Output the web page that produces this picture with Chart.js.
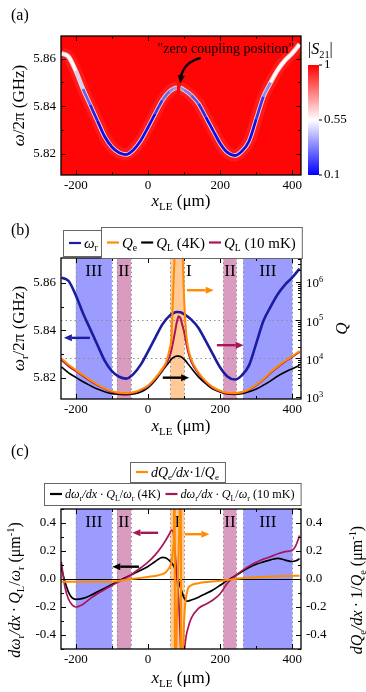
<!DOCTYPE html>
<html>
<head>
<meta charset="utf-8">
<script src="https://cdn.jsdelivr.net/npm/chart.js@4.4.1/dist/chart.umd.min.js"></script>
<style>
  body { margin: 0; background: #fff; }
  #wrap { position: relative; width: 366px; height: 692px; }
  #wrap canvas { position: absolute; left: 0; top: 0; }
</style>
</head>
<body>
<div id="wrap">
  <canvas id="chartA" width="366" height="692"></canvas>
  <canvas id="chartB" width="366" height="692"></canvas>
  <canvas id="chartC" width="366" height="692"></canvas>
</div>
<script>
const FONT = '"Liberation Serif", "Times New Roman", serif';
Chart.defaults.font.family = FONT;
Chart.defaults.font.size = 13;
Chart.defaults.color = "#000";

// x_LE axis (um), same for the three panels
const xTicks = [-200, 0, 200, 400];
const xMinor = [-100, 100, 300];

// resonance frequency omega_r/2pi (GHz)
const xW = [-240, -220, -200, -180, -160, -140, -120, -100, -80, -60, -40, -20, 0, 20, 40, 60, 70, 80, 90, 100,
  120, 140, 160, 180, 200, 220, 240, 260, 280, 300, 320, 340, 360, 380, 400, 420];
const omegaR = [5.8622, 5.8608, 5.8548, 5.8472, 5.8405, 5.8338, 5.8272, 5.8228, 5.8204, 5.8196,
  5.8216, 5.8255, 5.8310, 5.8368, 5.8425, 5.8462, 5.8472, 5.8477, 5.8476, 5.8468,
  5.8445, 5.8410, 5.8355, 5.8298, 5.8243, 5.8205, 5.8192, 5.8210, 5.8252, 5.8345,
  5.8440, 5.8500, 5.8553, 5.8593, 5.8623, 5.8660];
const freqTicks = [5.82, 5.84, 5.86];
const freqMinor = [5.83, 5.85];
const s21Ticks = ["1", "0.55", "0.1"];

// (b) quality factors
const xQ = [-240, -220, -200, -180, -160, -140, -120, -100, -80, -60, -40, -20, 0, 20, 40, 50, 60, 65, 70, 75,
  80, 85, 90, 95, 100, 105, 110, 120, 140, 160, 180, 200, 220, 240, 260, 280, 300, 320, 340, 360, 380, 400, 420];
const qExt = [10000, 6800, 5000, 3700, 2700, 2100, 1650, 1400, 1270, 1240, 1300, 1530, 1950, 3050, 5400, 7900,
  17800, 35000, 600000, 8e6, 3e7, 1.6e7, 3e7, 8e6, 4e5, 56000, 22000, 9500, 4300, 2550, 1780, 1430, 1270, 1240,
  1330, 1560, 2070, 2900, 4400, 6300, 8700, 11500, 15500];
const qL10mK = [9100, 6300, 4700, 3500, 2600, 2000, 1600, 1350, 1230, 1200, 1260, 1480, 1860, 2900, 5000, 7100,
  11500, 16600, 28000, 50000, 89000, 126000, 112000, 76000, 50000, 28000, 16600, 8300, 4000, 2400, 1700, 1380,
  1230, 1200, 1290, 1510, 2000, 2800, 4200, 6000, 8300, 11000, 14800];
const qL4K = [6000, 4200, 3200, 2450, 1950, 1580, 1350, 1200, 1150, 1120, 1170, 1330, 1700, 2650, 4700, 6300,
  8300, 9600, 10500, 11200, 11500, 11500, 11200, 10500, 9500, 8500, 7400, 5600, 3300, 2200, 1580, 1320, 1170,
  1150, 1200, 1350, 1580, 2000, 2600, 3470, 4400, 5400, 6600];
const qTicks = [1e3, 1e4, 1e5, 1e6];
const qExp = ["3", "4", "5", "6"];

// regions I, II, III
const bandFrom = [-200, -86, 62, 209, 264];
const bandTo = [-100, -47, 101, 245, 400];
const bandName = ["III", "II", "I", "II", "III"];
const bandColor = { III: "#9c9cff", II: "#d99cc0", I: "#ffc998" };

// (c) normalised derivatives
const xD = [-240, -230, -220, -210, -200, -180, -160, -140, -120, -100, -80, -60, -40, -20, 0, 20, 40, 50, 60, 65,
  70, 75, 80, 85, 90, 95, 100, 105, 110, 120, 140, 160, 180, 200, 220, 240, 260, 280, 300, 320, 340, 360, 380,
  400, 410, 420];
const dL4K = [0.08, -0.02, -0.095, -0.135, -0.145, -0.138, -0.118, -0.092, -0.066, -0.04, -0.012, 0.012, 0.038,
  0.062, 0.09, 0.125, 0.155, 0.15, 0.13, 0.117, 0.1, 0.07, 0.025, -0.02, -0.06, -0.1, -0.135, -0.155, -0.158,
  -0.15, -0.13, -0.105, -0.078, -0.045, -0.01, 0.02, 0.052, 0.082, 0.105, 0.122, 0.137, 0.148, 0.135, 0.125,
  0.13, 0.145];
const dL10mK = [0.12, -0.06, -0.145, -0.185, -0.2, -0.18, -0.14, -0.105, -0.075, -0.047, -0.018, 0.008, 0.043,
  0.08, 0.12, 0.172, 0.24, 0.28, 0.325, 0.35, 0.335, 0.19, 0.02, -0.15, -0.45, -0.9, -0.55, -0.42, -0.36, -0.28,
  -0.21, -0.18, -0.15, -0.105, -0.03, 0.018, 0.058, 0.092, 0.12, 0.142, 0.16, 0.18, 0.195, 0.205, 0.24, 0.31];
const xE = [-240, -160, -100, -60, -20, 0, 20, 40, 50, 60, 65, 70, 72, 74, 75, 78, 80, 83, 86, 89, 91, 92, 95, 98,
  100, 104, 110, 120, 140, 170, 200, 240, 300, 360, 420];
const dQe = [-0.02, -0.02, -0.018, -0.005, 0.008, 0.015, 0.022, 0.035, 0.05, 0.085, 0.12, 0.22, 0.35, 1.5, -1.5,
  -0.6, -0.3, 0, 0.3, 0.7, 1.5, -1.5, -0.7, -0.45, -0.3, -0.16, -0.075, -0.045, -0.03, -0.02, -0.012, 0, 0.012,
  0.02, 0.024];
const dTicks = [-0.4, -0.2, 0, 0.2, 0.4];
const dMinor = [-0.5, -0.3, -0.1, 0.1, 0.3, 0.5];

const ORANGE = "#ff8c00";
const CRIMSON = "#aa1459";
const BLUE = "#1c1ca2";
const TH = "\u2009"; // thin space

const pts = (xs, ys) => xs.map((x, i) => ({ x, y: ys[i] }));

// text with italic / subscript / superscript parts: [text, "i" | "b" | "p" ...]
function richWidth(ctx, parts, size) {
  let w = 0;
  for (const [t, f = ""] of parts) {
    const s = f.includes("b") || f.includes("p") ? size * 0.65 : size;
    ctx.font = (f.includes("i") ? "italic " : "") + s + "px " + FONT;
    w += ctx.measureText(t).width;
  }
  return w;
}
function drawRich(ctx, parts, x, y, size, align = "left", angle = 0) {
  ctx.save();
  ctx.translate(x, y);
  ctx.rotate(angle);
  ctx.fillStyle = "#000";
  ctx.textAlign = "left";
  ctx.textBaseline = "alphabetic";
  const w = richWidth(ctx, parts, size);
  let cx = align === "center" ? -w / 2 : align === "right" ? -w : 0;
  for (const [t, f = ""] of parts) {
    const s = f.includes("b") || f.includes("p") ? size * 0.65 : size;
    ctx.font = (f.includes("i") ? "italic " : "") + s + "px " + FONT;
    const dy = f.includes("b") ? size * 0.22 : f.includes("p") ? -size * 0.4 : 0;
    ctx.fillText(t, cx, size * 0.34 + dy);
    cx += ctx.measureText(t).width;
  }
  ctx.restore();
  return w;
}

const T_x = [["x", "i"], ["LE", "b"], [" (μm)"]];
const T_freqA = [["ω", "i"], ["/2π (GHz)"]];
const T_freqB = [["ω", "i"], ["r", "b"], ["/2π (GHz)"]];
const T_dL = [["dω", "i"], ["r", "b"], ["/dx", "i"], [TH + "·" + TH], ["Q", "i"], ["L", "b"], ["/"], ["ω", "i"], ["r", "b"],
  [" (μm"], ["-1", "p"], [")"]];
const T_dE = [["dQ", "i"], ["e", "b"], ["/dx", "i"], [TH + "·" + TH + "1/"], ["Q", "i"], ["e", "b"], [" (μm"], ["-1", "p"], [")"]];

function legendBox(ctx, items, x, top, h, size, gap) {
  let w = 6;
  const widths = items.map((it) => richWidth(ctx, it.parts, size));
  widths.forEach((tw) => (w += 12 + 3 + tw + gap));
  w = w - gap + 6;
  ctx.save();
  ctx.fillStyle = "#fff";
  ctx.strokeStyle = "#666";
  ctx.lineWidth = 1;
  ctx.fillRect(x, top, w, h);
  ctx.strokeRect(x + 0.5, top + 0.5, w, h);
  let cx = x + 6;
  const cy = top + h / 2;
  items.forEach((it, i) => {
    ctx.strokeStyle = it.color;
    ctx.lineWidth = 2.2;
    ctx.beginPath();
    ctx.moveTo(cx, cy);
    ctx.lineTo(cx + 12, cy);
    ctx.stroke();
    drawRich(ctx, it.parts, cx + 15, cy, size);
    cx += 15 + widths[i] + gap;
  });
  ctx.restore();
}

function arrow(ctx, x1, y1, x2, y2, color) {
  const ang = Math.atan2(y2 - y1, x2 - x1);
  const hl = 8, hw = 3.5;
  ctx.save();
  ctx.strokeStyle = color;
  ctx.fillStyle = color;
  ctx.lineWidth = 2.4;
  ctx.beginPath();
  ctx.moveTo(x1, y1);
  ctx.lineTo(x2 - hl * Math.cos(ang), y2 - hl * Math.sin(ang));
  ctx.stroke();
  ctx.beginPath();
  ctx.moveTo(x2, y2);
  ctx.lineTo(x2 - hl * Math.cos(ang) - hw * Math.sin(ang), y2 - hl * Math.sin(ang) + hw * Math.cos(ang));
  ctx.lineTo(x2 - hl * Math.cos(ang) + hw * Math.sin(ang), y2 - hl * Math.sin(ang) - hw * Math.cos(ang));
  ctx.closePath();
  ctx.fill();
  ctx.restore();
}

function drawMarks(ctx, a, list, toPx, len, sides) {
  ctx.beginPath();
  for (const v of list) {
    const p = Math.round(toPx(v)) + 0.5;
    if (sides.includes("b")) { ctx.moveTo(p, a.bottom); ctx.lineTo(p, a.bottom - len); }
    if (sides.includes("t")) { ctx.moveTo(p, a.top); ctx.lineTo(p, a.top + len); }
    if (sides.includes("l")) { ctx.moveTo(a.left, p); ctx.lineTo(a.left + len, p); }
    if (sides.includes("r")) { ctx.moveTo(a.right, p); ctx.lineTo(a.right - len, p); }
  }
  ctx.stroke();
}

// box around the plot and inward tick marks
const frame = {
  id: "frame",
  afterDatasetsDraw(chart, args, opts) {
    const { ctx, chartArea: a, scales } = chart;
    ctx.save();
    ctx.strokeStyle = "#000";
    ctx.lineWidth = 1;
    for (const m of opts.marks || []) {
      const s = scales[m.scale];
      drawMarks(ctx, a, m.major, (v) => s.getPixelForValue(v), 5, m.sides);
      drawMarks(ctx, a, m.minor || [], (v) => s.getPixelForValue(v), 3, m.sides);
    }
    ctx.lineWidth = 1.3;
    ctx.strokeRect(a.left, a.top, a.right - a.left, a.bottom - a.top);
    ctx.restore();
  },
};

function drawBands(chart, labelX, hLines) {
  const { ctx, chartArea: a, scales: { x } } = chart;
  ctx.save();
  bandFrom.forEach((f, i) => {
    const p0 = x.getPixelForValue(f), p1 = x.getPixelForValue(bandTo[i]);
    ctx.fillStyle = bandColor[bandName[i]];
    ctx.fillRect(p0, a.top, p1 - p0, a.bottom - a.top);
  });
  ctx.strokeStyle = "#8c8c8c";
  ctx.lineWidth = 1;
  ctx.setLineDash([1.5, 3]);
  ctx.beginPath();
  [...bandFrom, ...bandTo].forEach((v) => {
    const p = Math.round(x.getPixelForValue(v)) + 0.5;
    ctx.moveTo(p, a.top);
    ctx.lineTo(p, a.bottom);
  });
  hLines.forEach((py) => {
    ctx.moveTo(a.left, Math.round(py) + 0.5);
    ctx.lineTo(a.right, Math.round(py) + 0.5);
  });
  ctx.stroke();
  ctx.setLineDash([]);
  ctx.fillStyle = "#000";
  ctx.font = "17px " + FONT;
  ctx.textAlign = "center";
  ctx.textBaseline = "middle";
  bandName.forEach((n, i) => ctx.fillText(n, x.getPixelForValue(labelX[i]), a.top + 14));
  ctx.restore();
}

function panelLabel(ctx, t, x, y) {
  ctx.save();
  ctx.font = "16px " + FONT;
  ctx.fillStyle = "#000";
  ctx.textBaseline = "middle";
  ctx.fillText(t, x, y);
  ctx.restore();
}

function xScale() {
  return {
    type: "linear",
    min: -241,
    max: 424,
    afterFit: (s) => { s.height = 20; },
    afterBuildTicks: (s) => { s.ticks = xTicks.map((v) => ({ value: v })); },
    grid: { display: false, drawTicks: false },
    border: { display: false },
    ticks: { padding: 3, maxRotation: 0, autoSkip: false },
  };
}
function yScale(min, max, list, digits, pos, width) {
  return {
    type: "linear",
    position: pos,
    min: min,
    max: max,
    afterFit: (s) => { s.width = width; },
    afterBuildTicks: (s) => { s.ticks = list.map((v) => ({ value: v })); },
    grid: { display: false, drawTicks: false },
    border: { display: false },
    ticks: { padding: 5, autoSkip: false, callback: (v) => Number(v).toFixed(digits) },
  };
}

const common = {
  responsive: false,
  animation: false,
  events: [],
  elements: {
    point: { radius: 0 },
    line: { tension: 0.4, cubicInterpolationMode: "monotone", fill: false },
  },
};

// ---------- (a) |S21| map ----------
const inGap = (c) => (c.p0.parsed.x + c.p1.parsed.x) / 2 > 80 && (c.p0.parsed.x + c.p1.parsed.x) / 2 < 90;
function dipColor(c) {
  if (inGap(c)) return "rgba(255,255,255,0)";
  const y = (c.p0.parsed.y + c.p1.parsed.y) / 2;
  const t = Math.pow(Math.max(0, Math.min(1, (5.852 - y) / 0.017)), 0.6);
  const r = Math.round(255 - 240 * t);
  return "rgb(" + r + "," + r + "," + Math.round(255 - 30 * t) + ")";
}

const panelA = {
  id: "panelA",
  beforeDatasetsDraw(chart) {
    const { ctx, chartArea: a } = chart;
    ctx.save();
    ctx.fillStyle = "#ff0606";
    ctx.fillRect(a.left, a.top, a.right - a.left, a.bottom - a.top);
    ctx.restore();
  },
  afterDraw(chart) {
    const { ctx, chartArea: a, scales: { x, y } } = chart;
    panelLabel(ctx, "(a)", 11, 16);
    drawRich(ctx, T_freqA, 18, (a.top + a.bottom) / 2, 17, "center", -Math.PI / 2);
    drawRich(ctx, T_x, (a.left + a.right) / 2, 200, 17, "center");

    // colour bar
    const bx = a.right + 7, bw = 11, bt = a.top + 29, bb = a.bottom;
    const g = ctx.createLinearGradient(0, bt, 0, bb);
    g.addColorStop(0, "#ff0000");
    g.addColorStop(0.5, "#ffffff");
    g.addColorStop(1, "#0000ff");
    ctx.save();
    ctx.fillStyle = g;
    ctx.fillRect(bx, bt, bw, bb - bt);
    ctx.strokeStyle = "#000";
    ctx.lineWidth = 1;
    ctx.font = "13px " + FONT;
    ctx.fillStyle = "#000";
    ctx.textBaseline = "middle";
    s21Ticks.forEach((t, i) => {
      const py = bt + (i * (bb - bt)) / 2;
      ctx.beginPath();
      ctx.moveTo(bx + bw, py);
      ctx.lineTo(bx + bw + 3, py);
      ctx.stroke();
      ctx.fillText(t, bx + bw + 5, py);
    });
    ctx.restore();
    drawRich(ctx, [["|"], ["S", "i"], ["21", "b"], ["|"]], bx, a.top + 13, 16);

    // annotation
    ctx.save();
    ctx.font = "14px " + FONT;
    ctx.fillStyle = "#000";
    ctx.textAlign = "center";
    ctx.textBaseline = "middle";
    ctx.fillText('"zero coupling position"', x.getPixelForValue(216), y.getPixelForValue(5.8639));
    ctx.strokeStyle = "#000";
    ctx.lineWidth = 2.2;
    const x0 = x.getPixelForValue(146), y0 = y.getPixelForValue(5.8603);
    const xc = x.getPixelForValue(100), yc = y.getPixelForValue(5.8585);
    const x1 = x.getPixelForValue(92), y1 = y.getPixelForValue(5.8525);
    ctx.beginPath();
    ctx.moveTo(x0, y0);
    ctx.quadraticCurveTo(xc, yc, x1, y1);
    ctx.stroke();
    ctx.restore();
    arrow(ctx, x1 + 0.5, y1 - 3, x1 - 1, y1 + 7, "#000");
  },
};

new Chart(document.getElementById("chartA"), {
  type: "line",
  data: {
    datasets: [
      { data: pts(xW, omegaR), borderWidth: 2.8, clip: 0, segment: { borderColor: dipColor } },
      { data: pts(xW, omegaR), borderWidth: 4.6, clip: 0,
        segment: { borderColor: (c) => (inGap(c) ? "rgba(255,255,255,0)" : "rgba(255,255,255,0.8)") } },
      { data: pts(xW, omegaR), borderWidth: 12, clip: 0,
        segment: { borderColor: (c) => (inGap(c) ? "rgba(255,255,255,0)" : "rgba(255,255,255,0.08)") } },
    ],
  },
  options: {
    ...common,
    layout: { padding: { left: 0, right: 65, top: 36, bottom: 497 } },
    plugins: {
      legend: { display: false },
      tooltip: { enabled: false },
      frame: { marks: [
        { scale: "x", major: xTicks, minor: xMinor, sides: "bt" },
        { scale: "y", major: freqTicks, minor: freqMinor, sides: "lr" },
      ] },
    },
    scales: { x: xScale(), y: yScale(5.811, 5.8695, freqTicks, 2, "left", 61) },
  },
  plugins: [panelA, frame],
});

// ---------- (b) omega_r and Q ----------
const qMinor = [];
for (let e = 1e3; e < 1e6; e *= 10) for (let k = 2; k <= 9; k++) qMinor.push(k * e);
qMinor.push(2e6, 3e6, 4e6);

const panelB = {
  id: "panelB",
  beforeDatasetsDraw(chart) {
    const q = chart.scales.q;
    drawBands(chart, [-150, -67, 113, 227, 332], [q.getPixelForValue(1e4), q.getPixelForValue(1e5)]);
  },
  afterDatasetsDraw(chart) {
    const { ctx, scales: { x, y } } = chart;
    const ar = (xa, xb, v, c) => arrow(ctx, x.getPixelForValue(xa), y.getPixelForValue(v),
      x.getPixelForValue(xb), y.getPixelForValue(v), c);
    ar(-161, -233, 5.8368, BLUE);
    ar(108, 182, 5.8569, ORANGE);
    ar(191, 265, 5.8337, CRIMSON);
    ar(41, 114, 5.8200, "#000");
  },
  afterDraw(chart) {
    const { ctx, chartArea: a, scales: { q } } = chart;
    panelLabel(ctx, "(b)", 11, 231);
    drawRich(ctx, T_freqB, 18, (a.top + a.bottom) / 2, 17, "center", -Math.PI / 2);
    drawRich(ctx, [["Q", "i"]], 341, (a.top + a.bottom) / 2, 17, "center", -Math.PI / 2);
    drawRich(ctx, T_x, (a.left + a.right) / 2, 425, 17, "center");
    qTicks.forEach((v, i) => drawRich(ctx, [["10"], [qExp[i], "p"]], a.right + 5, q.getPixelForValue(v) + 1, 13));
    legendBox(ctx, [{ color: BLUE, parts: [["ω", "i"], ["r", "b"]] }], 63, 230, 26, 15, 8);
    legendBox(ctx, [
      { color: ORANGE, parts: [["Q", "i"], ["e", "b"]] },
      { color: "#000", parts: [["Q", "i"], ["L", "b"], [" (4K)"]] },
      { color: CRIMSON, parts: [["Q", "i"], ["L", "b"], [" (10 mK)"]] },
    ], 101, 227, 31, 15, 4);
  },
};

new Chart(document.getElementById("chartB"), {
  type: "line",
  data: {
    datasets: [
      { data: pts(xQ, qExt), yAxisID: "q", borderColor: ORANGE, borderWidth: 2, clip: 0 },
      { data: pts(xQ, qL10mK), yAxisID: "q", borderColor: CRIMSON, borderWidth: 2, clip: 0 },
      { data: pts(xQ, qL4K), yAxisID: "q", borderColor: "#000", borderWidth: 1.6, clip: 0 },
      { data: pts(xW, omegaR), yAxisID: "y", borderColor: BLUE, borderWidth: 2.6, clip: 0 },
    ],
  },
  options: {
    ...common,
    layout: { padding: { left: 0, right: 35, top: 258, bottom: 273 } },
    plugins: {
      legend: { display: false },
      tooltip: { enabled: false },
      frame: { marks: [
        { scale: "x", major: xTicks, minor: xMinor, sides: "bt" },
        { scale: "y", major: freqTicks, minor: freqMinor, sides: "l" },
        { scale: "q", major: qTicks, minor: qMinor, sides: "r" },
      ] },
    },
    scales: {
      x: xScale(),
      y: yScale(5.811, 5.8705, freqTicks, 2, "left", 61),
      q: {
        type: "logarithmic",
        position: "right",
        min: 870,
        max: 4.2e6,
        afterFit: (s) => { s.width = 30; },
        afterBuildTicks: (s) => { s.ticks = qTicks.map((v) => ({ value: v })); },
        grid: { display: false, drawTicks: false },
        border: { display: false },
        ticks: { display: false },
      },
    },
  },
  plugins: [panelB, frame],
});

// ---------- (c) derivatives ----------
const panelC = {
  id: "panelC",
  beforeDatasetsDraw(chart) {
    drawBands(chart, [-150, -67, 81, 227, 332], []);
    const { ctx, chartArea: a, scales: { y } } = chart;
    ctx.save();
    ctx.strokeStyle = "#000";
    ctx.lineWidth = 1;
    const p = Math.round(y.getPixelForValue(0)) + 0.5;
    ctx.beginPath();
    ctx.moveTo(a.left, p);
    ctx.lineTo(a.right, p);
    ctx.stroke();
    ctx.restore();
  },
  afterDatasetsDraw(chart) {
    const { ctx, scales: { x, y } } = chart;
    const ar = (xa, xb, v, c) => arrow(ctx, x.getPixelForValue(xa), y.getPixelForValue(v),
      x.getPixelForValue(xb), y.getPixelForValue(v), c);
    ar(28, -43, 0.33, CRIMSON);
    ar(-25, -99, 0.088, "#000");
    ar(102, 170, 0.32, ORANGE);
  },
  afterDraw(chart) {
    const { ctx, chartArea: a } = chart;
    panelLabel(ctx, "(c)", 11, 452);
    drawRich(ctx, T_dL, 15, 590, 16, "center", -Math.PI / 2);
    drawRich(ctx, T_dE, 357, 590, 16, "center", -Math.PI / 2);
    drawRich(ctx, T_x, (a.left + a.right) / 2, 677, 17, "center");
    legendBox(ctx, [{ color: ORANGE, parts: [["dQ", "i"], ["e", "b"], ["/dx", "i"], ["·1/"], ["Q", "i"], ["e", "b"]] }],
      130, 462, 20, 14, 4);
    legendBox(ctx, [
      { color: "#000", parts: [["dω", "i"], ["r", "b"], ["/dx", "i"], [TH + "·" + TH], ["Q", "i"], ["L", "b"], ["/"], ["ω", "i"], ["r", "b"], [" (4K)"]] },
      { color: CRIMSON, parts: [["dω", "i"], ["r", "b"], ["/dx", "i"], [TH + "·" + TH], ["Q", "i"], ["L", "b"], ["/"], ["ω", "i"], ["r", "b"], [" (10 mK)"]] },
    ], 44, 483, 22, 12.2, 5);
  },
};

new Chart(document.getElementById("chartC"), {
  type: "line",
  data: {
    datasets: [
      { data: pts(xE, dQe), yAxisID: "y2", borderColor: ORANGE, borderWidth: 2, clip: 0 },
      { data: pts(xD, dL10mK), yAxisID: "y", borderColor: CRIMSON, borderWidth: 1.7, clip: 0 },
      { data: pts(xD, dL4K), yAxisID: "y", borderColor: "#000", borderWidth: 1.7, clip: 0 },
    ],
  },
  options: {
    ...common,
    layout: { padding: { left: 0, right: 25, top: 509, bottom: 23 } },
    plugins: {
      legend: { display: false },
      tooltip: { enabled: false },
      frame: { marks: [
        { scale: "x", major: xTicks, minor: xMinor, sides: "bt" },
        { scale: "y", major: dTicks, minor: dMinor, sides: "lr" },
      ] },
    },
    scales: {
      x: xScale(),
      y: yScale(-0.5, 0.5, dTicks, 1, "left", 61),
      y2: yScale(-0.5, 0.5, dTicks, 1, "right", 40),
    },
  },
  plugins: [panelC, frame],
});
</script>
</body>
</html>
